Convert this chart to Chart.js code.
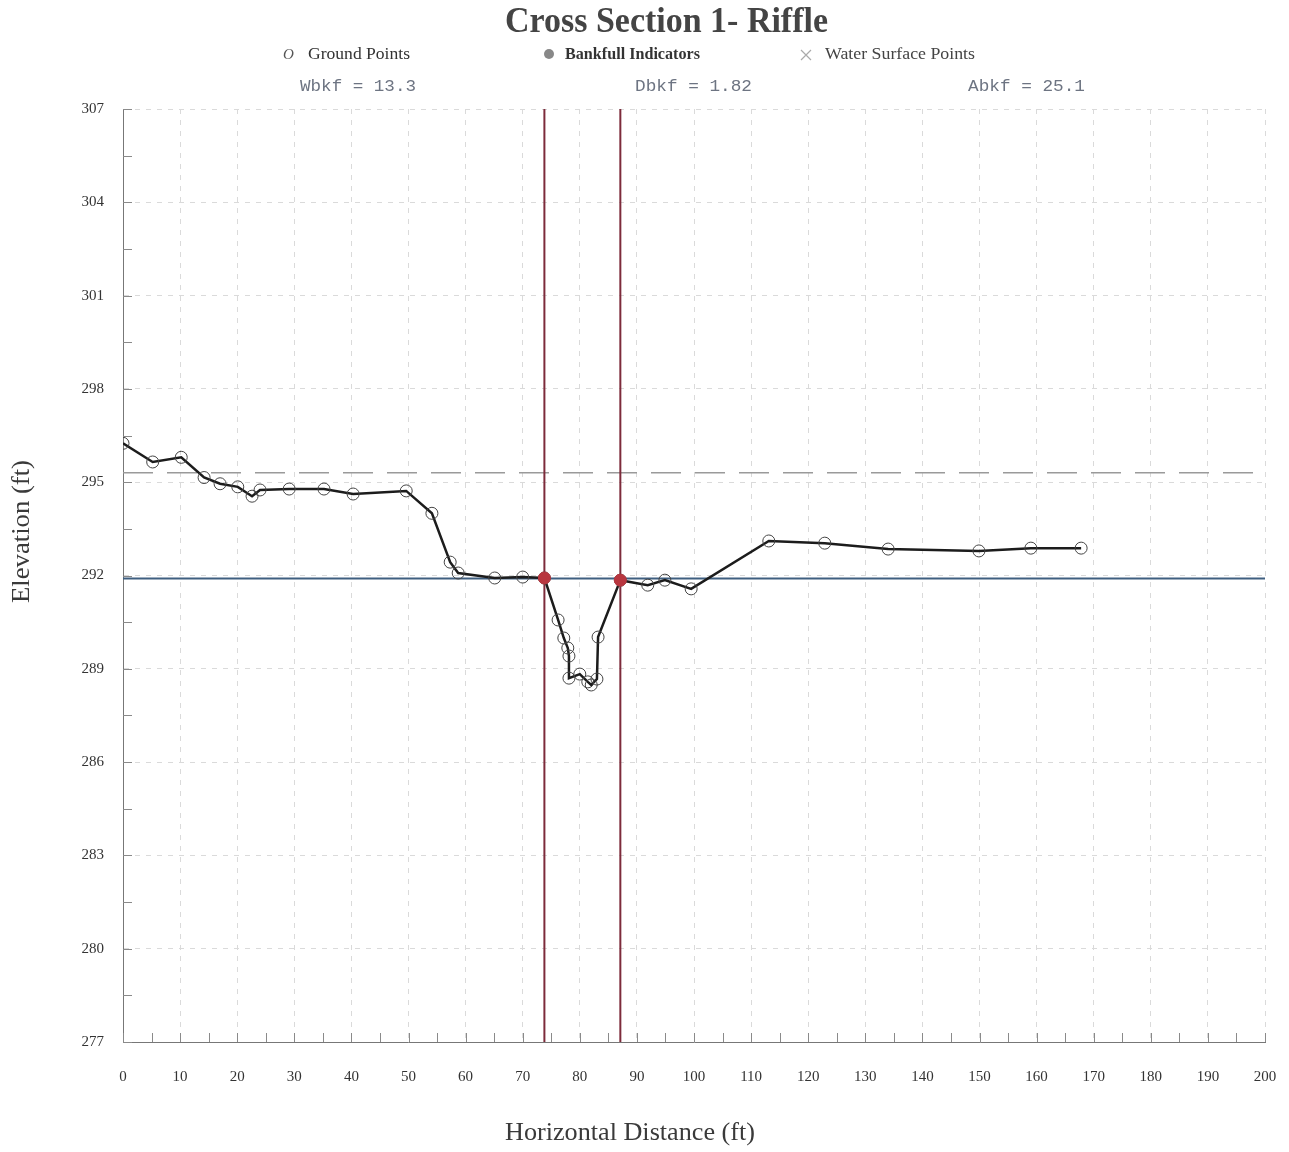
<!DOCTYPE html>
<html>
<head>
<meta charset="utf-8">
<script src="https://cdn.jsdelivr.net/npm/chart.js@4.4.1/dist/chart.umd.min.js"></script>
<style>
  body { margin: 0; background: #fff; }
  #wrap { width: 1289px; height: 1152px; position: relative; }
</style>
</head>
<body>
<div id="wrap"><canvas id="xs-chart"></canvas></div>
<script>
// surveyed ground points (station ft, elevation ft)
const groundX = [0, 5.2, 10.2, 14.2, 17.0, 20.1, 22.6, 24.0, 29.1, 35.2, 40.3, 49.6, 54.1, 57.3, 58.7,
  65.1, 70.0, 73.8, 76.2, 77.2, 77.9, 78.1, 78.1, 80.0, 81.4, 82.0, 83.0, 83.2, 87.1,
  91.9, 94.9, 99.5, 113.1, 122.9, 134.0, 149.9, 159.0, 167.8];
const groundY = [296.25, 295.65, 295.8, 295.15, 294.95, 294.85, 294.55, 294.75, 294.78, 294.78, 294.62, 294.72, 294.0, 292.43, 292.08,
  291.92, 291.95, 291.92, 290.57, 289.99, 289.67, 289.41, 288.7, 288.83, 288.58, 288.48, 288.67, 290.02, 291.85,
  291.69, 291.85, 291.57, 293.11, 293.04, 292.85, 292.79, 292.88, 292.88];

// bankfull indicators
const bankfullX = [73.8, 87.1];
const bankfullY = [291.92, 291.85];

const bankfullElev = 291.9;
const floodProneElev = 295.3;

const xTicks = [0, 10, 20, 30, 40, 50, 60, 70, 80, 90, 100, 110, 120, 130, 140, 150, 160, 170, 180, 190, 200];
const yTicks = [277, 280, 283, 286, 289, 292, 295, 298, 301, 304, 307];

const stats = ['Wbkf = 13.3', 'Dbkf = 1.82', 'Abkf = 25.1'];
const legendLabels = ['Ground Points', 'Bankfull Indicators', 'Water Surface Points'];

const serif = '"Liberation Serif", "DejaVu Serif", serif';
const mono = '"Liberation Mono", "DejaVu Sans Mono", monospace';

// draws text squeezed to a given width
function squeezeText(ctx, text, x, y, width) {
  const w = ctx.measureText(text).width;
  ctx.save();
  ctx.translate(x, y);
  ctx.scale(width / w, 1);
  ctx.fillText(text, 0, 0);
  ctx.restore();
}

// title, legend, stats, axis titles and inward minor ticks
const decorPlugin = {
  id: 'decor',
  afterDraw(chart) {
    const ctx = chart.ctx;
    const xs = chart.scales.x, ys = chart.scales.y;
    ctx.save();

    // minor ticks
    ctx.strokeStyle = '#8a8a8a';
    ctx.lineWidth = 1;
    for (let v = 277; v <= 307; v += 1.5) {
      const py = Math.round(ys.getPixelForValue(v)) + 0.5;
      ctx.beginPath(); ctx.moveTo(xs.left, py); ctx.lineTo(xs.left + 9, py); ctx.stroke();
    }
    for (let v = 0; v <= 200; v += 5) {
      const px = Math.round(xs.getPixelForValue(v)) + 0.5;
      ctx.beginPath(); ctx.moveTo(px, ys.bottom); ctx.lineTo(px, ys.bottom - 9); ctx.stroke();
    }

    // title
    ctx.fillStyle = '#444';
    ctx.font = 'bold 36px ' + serif;
    ctx.textBaseline = 'middle';
    ctx.textAlign = 'left';
    squeezeText(ctx, 'Cross Section 1- Riffle', 505, 23, 323);

    // legend
    ctx.font = '17px ' + serif;
    ctx.fillStyle = '#333';
    squeezeText(ctx, legendLabels[0], 308, 55, 102);
    ctx.font = 'italic 15px ' + serif;
    ctx.fillStyle = '#555';
    ctx.fillText('O', 283, 55);

    ctx.fillStyle = '#888';
    ctx.beginPath(); ctx.arc(549, 54, 5, 0, Math.PI * 2); ctx.fill();
    ctx.font = 'bold 17px ' + serif;
    ctx.fillStyle = '#333';
    squeezeText(ctx, legendLabels[1], 565, 55, 135);

    ctx.strokeStyle = '#aaa';
    ctx.lineWidth = 1.2;
    ctx.beginPath();
    ctx.moveTo(801, 50); ctx.lineTo(811, 60);
    ctx.moveTo(811, 50); ctx.lineTo(801, 60);
    ctx.stroke();
    ctx.font = '17px ' + serif;
    ctx.fillStyle = '#444';
    squeezeText(ctx, legendLabels[2], 825, 55, 150);

    // bankfull stats
    ctx.font = '16px ' + mono;
    ctx.fillStyle = '#6d7482';
    squeezeText(ctx, stats[0], 300, 87, 116);
    squeezeText(ctx, stats[1], 635, 87, 117);
    squeezeText(ctx, stats[2], 968, 87, 117);

    // axis titles
    ctx.font = '25px ' + serif;
    ctx.fillStyle = '#3a3a3a';
    squeezeText(ctx, 'Horizontal Distance (ft)', 505, 1133, 250);
    ctx.save();
    ctx.translate(22, 603);
    ctx.rotate(-Math.PI / 2);
    squeezeText(ctx, 'Elevation (ft)', 0, 0, 143);
    ctx.restore();

    ctx.restore();
  }
};

const hline = (y, x0, x1) => [{ x: x0, y: y }, { x: x1, y: y }];
const vline = (x) => [{ x: x, y: 277 }, { x: x, y: 307 }];

const config = {
  type: 'scatter',
  data: {
    datasets: [
      {
        label: 'Bankfull Indicators',
        data: bankfullX.map((x, i) => ({ x: x, y: bankfullY[i] })),
        backgroundColor: '#b8363f',
        borderColor: '#b8363f',
        pointRadius: 6,
        showLine: false
      },
      {
        label: 'Ground Points',
        data: groundX.map((x, i) => ({ x: x, y: groundY[i] })),
        showLine: true,
        borderColor: '#1c1c1c',
        borderWidth: 2.5,
        pointRadius: 6,
        pointBorderColor: '#444',
        pointBorderWidth: 1,
        pointBackgroundColor: 'rgba(0,0,0,0)',
        tension: 0
      },
      {
        label: 'left bkf',
        data: vline(bankfullX[0]),
        showLine: true, borderColor: '#7d2b3b', borderWidth: 2, pointRadius: 0
      },
      {
        label: 'right bkf',
        data: vline(bankfullX[1]),
        showLine: true, borderColor: '#7d2b3b', borderWidth: 2, pointRadius: 0
      },
      {
        label: 'bankfull elev',
        data: hline(bankfullElev, 0, 200),
        showLine: true, borderColor: '#3f5f80', borderWidth: 2, pointRadius: 0
      },
      {
        label: 'flood prone',
        data: hline(floodProneElev, 0, 200),
        showLine: true, borderColor: '#9a9a9a', borderWidth: 1.5, borderDash: [30, 14], pointRadius: 0
      }
    ]
  },
  options: {
    responsive: true,
    maintainAspectRatio: false,
    animation: false,
    layout: { padding: { top: 109, right: 24, left: 0, bottom: 0 } },
    plugins: { legend: { display: false }, tooltip: { enabled: false }, title: { display: false } },
    scales: {
      x: {
        type: 'linear', min: 0, max: 200,
        afterBuildTicks: (s) => { s.ticks = xTicks.map(v => ({ value: v })); },
        afterFit: (s) => { s.height = 110; },
        ticks: { color: '#333', padding: 2, font: { family: serif, size: 15 } },
        grid: { color: '#dadada', lineWidth: 1, drawTicks: true, tickLength: 24, tickColor: 'rgba(0,0,0,0)' },
        border: { display: true, color: '#777', width: 1, dash: [5, 6] },
        title: { display: false }
      },
      y: {
        type: 'linear', min: 277, max: 307,
        afterBuildTicks: (s) => { s.ticks = yTicks.map(v => ({ value: v })); },
        afterFit: (s) => { s.width = 123; },
        ticks: { color: '#333', padding: 19, font: { family: serif, size: 15 } },
        grid: { color: '#dadada', lineWidth: 1, drawTicks: false },
        border: { display: true, color: '#777', width: 1, dash: [5, 6] },
        title: { display: false }
      }
    }
  },
  plugins: [decorPlugin]
};

new Chart(document.getElementById('xs-chart'), config);
</script>
</body>
</html>
